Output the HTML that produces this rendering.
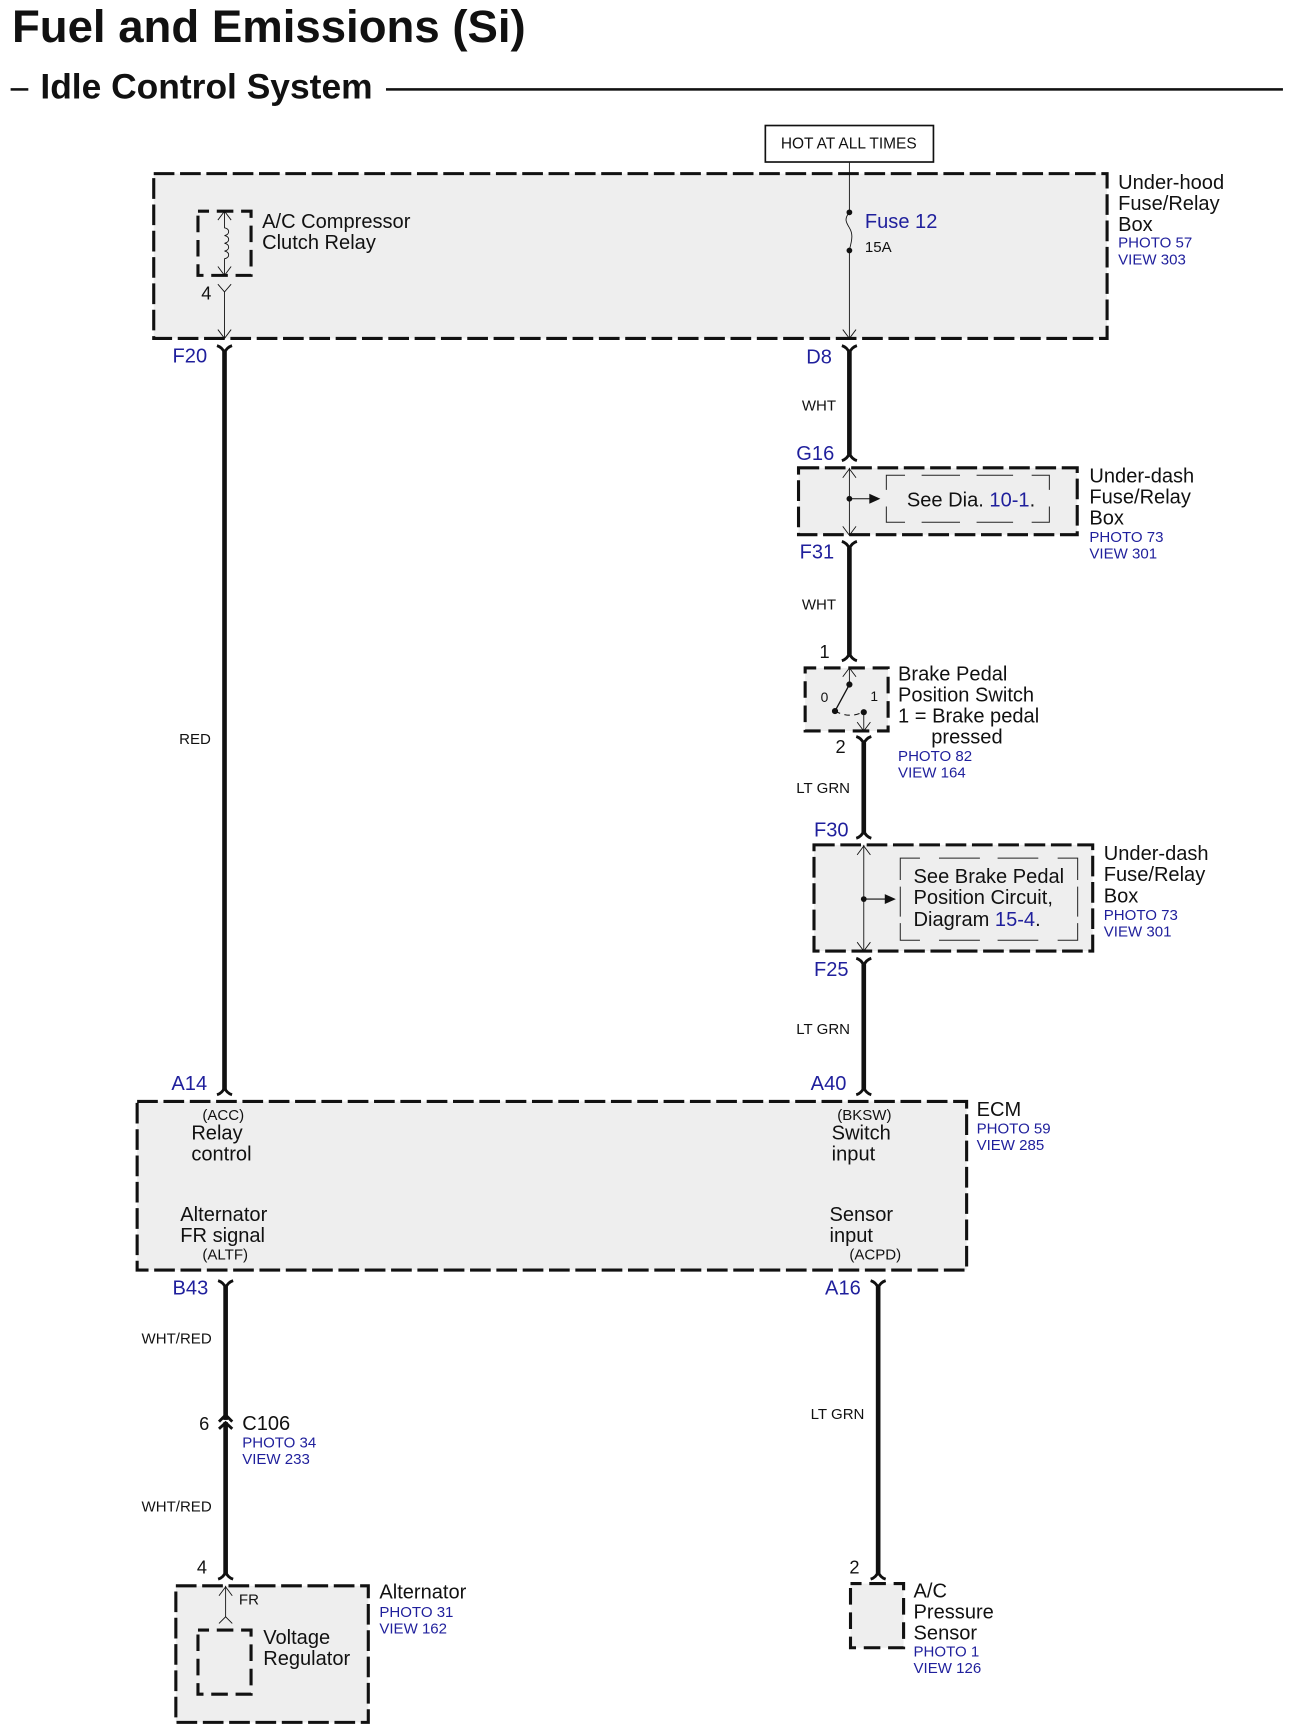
<!DOCTYPE html>
<html lang="en">
<head>
<meta charset="utf-8">
<title>Fuel and Emissions (Si) - Idle Control System</title>
<style>
html,body{margin:0;padding:0;background:#fff;width:1294px;height:1734px;overflow:hidden}
svg{display:block;position:absolute;left:0;top:0}
text{font-family:"Liberation Sans",Arial,sans-serif;fill:#111}
.b{fill:#1f1f9c}
.l{font-size:18.15px}
.s{font-size:13.6px}
.w{font-size:13.6px}
.c{font-size:18.15px}
.box{fill:#eee;stroke:#111;stroke-width:2.8;stroke-dasharray:18.700 5.100}
.sm{fill:#eee;stroke:#111;stroke-width:2.8;stroke-dasharray:15 7;stroke-dashoffset:5}
.in{fill:none;stroke:#222;stroke-width:.9}
.th{stroke:#111;stroke-width:.8;fill:none}
.wire{stroke:#111;stroke-width:4.2;fill:none}
.fk{stroke:#111;stroke-width:2.6;fill:none}
</style>
</head>
<body>
<svg width="1294" height="1734" viewBox="0 0 1170 1568" preserveAspectRatio="none" xmlns="http://www.w3.org/2000/svg">
<defs>
<g id="up"><path class="fk" d="M-6.8,0 Q-2,-1.5 0,-6.5 Q2,-1.500 6.8,0"/></g>
<g id="dn"><path class="fk" d="M-6.8,-5.500 Q-2,-4 0,1 Q2,-4 6.8,-5.500"/></g>
<g id="ad"><path class="th" d="M-6,-8 L0,0 L6,-8"/></g>
<g id="au"><path class="th" d="M-6,8 L0,0 L6,8"/></g>
</defs>

<text x="10.8" y="38" font-size="41.2" font-weight="700">Fuel and Emissions (Si)</text>
<rect x="9.600" y="79.700" width="16" height="2.300" fill="#111"/>
<text x="36.500" y="89.200" font-size="32" font-weight="700">Idle Control System</text>
<rect x="349" y="79.700" width="811" height="2.300" fill="#111"/>

<!-- HOT -->
<rect x="692" y="113.5" width="152" height="33" fill="#fff" stroke="#111" stroke-width="1.500"/>
<text x="706" y="134.500" font-size="14">HOT AT ALL TIMES</text>

<!-- Under-hood box -->
<rect class="box" x="139" y="157" width="862" height="149"/>
<rect class="sm" x="179" y="191" width="48" height="58"/>
<path class="th" d="M203,191 V206 c5,1 5,6 0,7 c5,1 5,6 0,7 c5,1 5,6 0,7 c5,1 5,6 0,7 V249"/>
<use href="#au" x="203" y="191"/><use href="#ad" x="203" y="249"/>
<path class="th" d="M197,257 L203,264 L209,257 M203,264 V306"/>
<use href="#ad" x="203" y="306"/>
<text x="182" y="271" font-size="16.500">4</text>
<text class="l" x="237" y="206">A/C Compressor</text>
<text class="l" x="237" y="225">Clutch Relay</text>

<path class="th" d="M768,147 V192 c-5,6 -3,9 0,14 c3,5 3,9 0,20 V306"/>
<use href="#ad" x="768" y="306"/>
<circle cx="768" cy="192" r="2.600" fill="#111"/><circle cx="768" cy="226.500" r="2.600" fill="#111"/>
<text class="l b" x="782" y="206.400">Fuse 12</text>
<text x="782" y="228" font-size="13.6">15A</text>
<text class="l" x="1011" y="170.700">Under-hood</text>
<text class="l" x="1011" y="189.700">Fuse/Relay</text>
<text class="l" x="1011" y="208.700">Box</text>
<text class="s b" x="1011" y="224">PHOTO 57</text>
<text class="s b" x="1011" y="239">VIEW 303</text>

<!-- Left wire -->
<text class="c b" x="156" y="328">F20</text>
<path class="wire" d="M203,318 V985"/>
<use href="#dn" x="203" y="318"/>
<use href="#up" x="203" y="990"/>
<text class="w" x="162" y="673">RED</text>
<text class="c b" x="155" y="985.500">A14</text>

<!-- D8 -> G16 -->
<text class="c b" x="729" y="328.500">D8</text>
<path class="wire" d="M768,318 V411"/>
<use href="#dn" x="768" y="318"/>
<use href="#up" x="768" y="416.500"/>
<text class="w" x="725" y="371">WHT</text>
<text class="c b" x="720" y="416">G16</text>

<!-- Under-dash 1 -->
<rect class="box" x="722" y="423" width="252" height="60.500"/>
<path class="in" d="M801.400,443 V429.800 H818.300 M833.300,429.800 H868 M883,429.800 H916 M932.800,429.800 H948.800 V443 M948.800,458 V472.300 H932.800 M916,472.300 H883 M868,472.300 H833.300 M818.300,472.300 H801.400 V458"/>
<path class="th" d="M768,423 V484"/>
<use href="#au" x="768" y="424"/><use href="#ad" x="768" y="484"/>
<circle cx="768" cy="451" r="2.600" fill="#111"/>
<path class="th" d="M768,451 H788" style="stroke-width:1"/>
<path d="M786,446.500 L796,451 L786,455.500 Z" fill="#111"/>
<text class="l" x="820" y="458">See Dia. <tspan class="b">10-1</tspan>.</text>
<text class="l" x="985" y="436.500">Under-dash</text>
<text class="l" x="985" y="455.500">Fuse/Relay</text>
<text class="l" x="985" y="474.500">Box</text>
<text class="s b" x="985" y="490">PHOTO 73</text>
<text class="s b" x="985" y="505">VIEW 301</text>

<!-- F31 -> 1 -->
<text class="c b" x="723" y="505">F31</text>
<path class="wire" d="M768,495 V592"/>
<use href="#dn" x="768" y="495"/>
<use href="#up" x="768" y="597.500"/>
<text class="w" x="725" y="551">WHT</text>
<text x="741" y="595" font-size="16.500">1</text>

<!-- Brake switch -->
<rect class="sm" x="728" y="604" width="75" height="57"/>
<path class="th" d="M768,604 V619"/><use href="#au" x="768" y="604"/>
<path d="M768,619 L755,643" stroke="#111" stroke-width="1.200"/>
<path d="M755,643 Q768,650 780,644" stroke="#111" stroke-width="1" stroke-dasharray="5 4" fill="none"/>
<path class="th" d="M781,644 V661"/><use href="#ad" x="781" y="661"/>
<circle cx="768" cy="619" r="2.800" fill="#111"/><circle cx="755" cy="643" r="2.800" fill="#111"/><circle cx="781" cy="644" r="2.800" fill="#111"/>
<text x="742" y="635" font-size="12.500">0</text>
<text x="787" y="634" font-size="12.500">1</text>
<text class="l" x="812" y="615.500">Brake Pedal</text>
<text class="l" x="812" y="634.500">Position Switch</text>
<text class="l" x="812" y="653.500">1 = Brake pedal</text>
<text class="l" x="842" y="672.500">pressed</text>
<text class="s b" x="812" y="688">PHOTO 82</text>
<text class="s b" x="812" y="703">VIEW 164</text>

<!-- 2 -> F30 -->
<text x="755.500" y="681" font-size="16.500">2</text>
<path class="wire" d="M781,671.500 V753"/>
<use href="#dn" x="781" y="671.500"/>
<use href="#up" x="781" y="758"/>
<text class="w" x="720" y="717">LT GRN</text>
<text class="c b" x="736" y="756.500">F30</text>

<!-- Under-dash 2 -->
<rect class="box" x="736" y="764" width="252" height="96"/>
<path class="in" d="M814,795.700 V776 H831.800 M849,776 H886 M902,776 H938.800 M956.300,776 H974.400 V795.700 M974.400,801.700 V828.900 M974.400,834.800 V850.200 H956.300 M938.800,850.200 H902 M886,850.200 H849 M831.800,850.200 H814 V834.800 M814,828.900 V801.700"/>
<path class="th" d="M781,764 V860"/>
<use href="#au" x="781" y="765"/><use href="#ad" x="781" y="860"/>
<circle cx="781" cy="813" r="2.600" fill="#111"/>
<path class="th" d="M781,813 H801" style="stroke-width:1"/>
<path d="M800,808.500 L810,813 L800,817.500 Z" fill="#111"/>
<text class="l" x="826" y="798.400">See Brake Pedal</text>
<text class="l" x="826" y="817.500">Position Circuit,</text>
<text class="l" x="826" y="837.400">Diagram <tspan class="b">15-4</tspan>.</text>
<text class="l" x="998" y="777.500">Under-dash</text>
<text class="l" x="998" y="796.500">Fuse/Relay</text>
<text class="l" x="998" y="816">Box</text>
<text class="s b" x="998" y="832">PHOTO 73</text>
<text class="s b" x="998" y="847">VIEW 301</text>

<!-- F25 -> A40 -->
<text class="c b" x="736" y="882.700">F25</text>
<path class="wire" d="M781,872 V985"/>
<use href="#dn" x="781" y="872"/>
<use href="#up" x="781" y="990"/>
<text class="w" x="720" y="935">LT GRN</text>
<text class="c b" x="733" y="985.500">A40</text>

<!-- ECM -->
<rect class="box" x="124" y="996" width="750" height="152.500"/>
<text class="s" x="183" y="1013">(ACC)</text>
<text class="l" x="173" y="1030.500">Relay</text>
<text class="l" x="173" y="1049.500">control</text>
<text class="s" x="757" y="1013">(BKSW)</text>
<text class="l" x="752" y="1030.500">Switch</text>
<text class="l" x="752" y="1049.500">input</text>
<text class="l" x="163" y="1104">Alternator</text>
<text class="l" x="163" y="1123">FR signal</text>
<text class="s" x="183" y="1139">(ALTF)</text>
<text class="l" x="750" y="1104">Sensor</text>
<text class="l" x="750" y="1123">input</text>
<text class="s" x="768" y="1139">(ACPD)</text>
<text class="l" x="883" y="1009">ECM</text>
<text class="s b" x="883" y="1025">PHOTO 59</text>
<text class="s b" x="883" y="1040">VIEW 285</text>

<!-- Lower wires -->
<text class="c b" x="156" y="1170.500">B43</text>
<text class="c b" x="746" y="1170.500">A16</text>
<path class="wire" d="M204,1163.500 V1423"/>
<path class="wire" d="M794,1163.500 V1423"/>
<use href="#dn" x="204" y="1163.500"/>
<use href="#dn" x="794" y="1163.500"/>
<use href="#up" x="204" y="1428"/>
<use href="#up" x="794" y="1428"/>
<text class="w" x="128" y="1215">WHT/RED</text>
<text class="w" x="128" y="1367">WHT/RED</text>
<text class="w" x="733" y="1283">LT GRN</text>
<rect x="196" y="1284" width="16" height="2" fill="#fff"/>
<path class="fk" d="M198,1285.500 L204,1279.500 L210,1285.500"/>
<path class="fk" d="M198,1292 L204,1286.500 L210,1292"/>
<text x="180" y="1293" font-size="16.500">6</text>
<text class="l" x="219" y="1293">C106</text>
<text class="s b" x="219" y="1309">PHOTO 34</text>
<text class="s b" x="219" y="1324">VIEW 233</text>
<text x="178" y="1423" font-size="16.500">4</text>
<text x="768" y="1423" font-size="16.500">2</text>

<!-- Alternator -->
<rect class="box" x="159" y="1434" width="174" height="123.500"/>
<path class="th" d="M204,1434 V1462"/>
<use href="#au" x="204" y="1435"/>
<path class="th" d="M198,1468 L204,1462 L210,1468"/>
<text class="s" x="216" y="1451">FR</text>
<rect class="sm" x="179" y="1474" width="48" height="58"/>
<text class="l" x="238" y="1486.500">Voltage</text>
<text class="l" x="238" y="1505.500">Regulator</text>
<text class="l" x="343" y="1445.500">Alternator</text>
<text class="s b" x="343" y="1462">PHOTO 31</text>
<text class="s b" x="343" y="1477">VIEW 162</text>

<!-- A/C sensor -->
<rect class="sm" x="769" y="1432" width="48" height="58"/>
<text class="l" x="826" y="1444.500">A/C</text>
<text class="l" x="826" y="1463.500">Pressure</text>
<text class="l" x="826" y="1482.500">Sensor</text>
<text class="s b" x="826" y="1498">PHOTO 1</text>
<text class="s b" x="826" y="1513">VIEW 126</text>
</svg>
</body>
</html>
